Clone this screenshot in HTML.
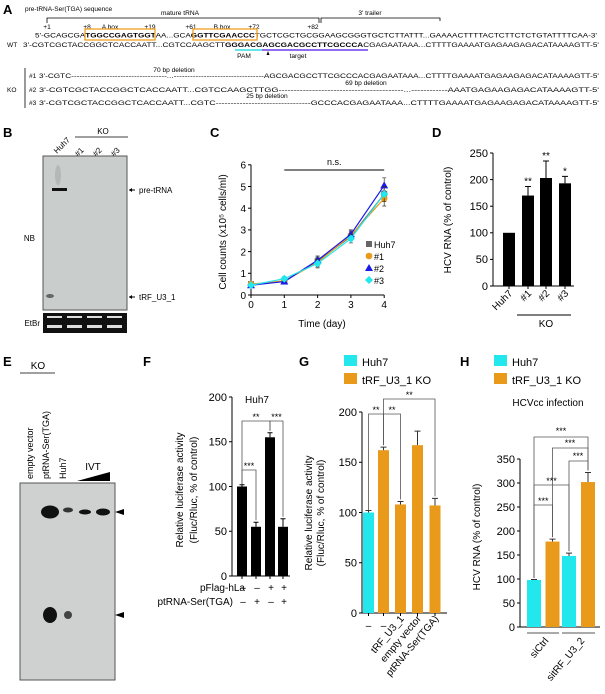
<!DOCTYPE html>
<html><head><meta charset="utf-8"><style>
body{margin:0;background:#fff}
svg{display:block;font-family:"Liberation Sans",sans-serif}
</style></head><body>
<svg id="fig" width="605" height="694" viewBox="0 0 605 694" xmlns="http://www.w3.org/2000/svg">
<!-- Panel A -->
<g font-size="6.6">
<text x="3" y="14" font-size="13" font-weight="bold">A</text>
<text x="25" y="11" font-size="6.5">pre-tRNA-Ser(TGA) sequence</text>
<path d="M47,23V18H319V23M321,23V18H440V21" stroke="#000" fill="none" stroke-width="0.8"/>
<text x="180" y="15" text-anchor="middle">mature tRNA</text>
<text x="370" y="15" text-anchor="middle">3' trailer</text>
<g>
<text x="47" y="29" text-anchor="middle">+1</text><text x="87" y="29" text-anchor="middle">+8</text>
<text x="110" y="29" text-anchor="middle">A box</text><text x="150" y="29" text-anchor="middle">+19</text>
<text x="191" y="29" text-anchor="middle">+61</text><text x="222" y="29" text-anchor="middle">B box</text>
<text x="254" y="29" text-anchor="middle">+72</text><text x="313" y="29" text-anchor="middle">+82</text></g>
<text x="35" y="37.5" textLength="562" lengthAdjust="spacingAndGlyphs">5'-GCAGCGA<tspan font-weight="bold">TGGCCGAGTGGT</tspan>AA...GCA<tspan font-weight="bold">GGTTCGAACCC</tspan>TGCTCGCTGCGGAAGCGGGTGCTCTTATTT...GAAAACTTTTACTCTTCTCTGTATTTTCAA-3'</text>
<rect x="85" y="29" width="70" height="11" fill="none" stroke="#f0a020" stroke-width="1.3"/>
<rect x="193" y="29" width="64" height="11" fill="none" stroke="#f0a020" stroke-width="1.3"/>
<text x="7" y="47">WT</text>
<text x="23" y="47" textLength="576" lengthAdjust="spacingAndGlyphs">3'-CGTCGCTACCGGCTCACCAATT...CGTCCAAGCTT<tspan font-weight="bold">GGGACGAGCGACGCCTTCGCCCA</tspan>CGAGAATAAA...CTTTTGAAAATGAGAAGAGACATAAAAGTT-5'</text>
<line x1="235" y1="50" x2="262" y2="50" stroke="#33dde0" stroke-width="1.6"/>
<line x1="262" y1="50" x2="368" y2="50" stroke="#6a3de8" stroke-width="1.6"/>
<path d="M268,51l-1.5,4h3z" fill="#000"/>
<text x="244" y="58" text-anchor="middle">PAM</text>
<text x="298" y="58" text-anchor="middle">target</text>
<line x1="25" y1="68" x2="25" y2="108" stroke="#000" stroke-width="0.8"/>
<text x="7" y="92">KO</text>
<text x="29" y="78">#1</text><text x="29" y="92">#2</text><text x="29" y="105">#3</text>
<text x="174" y="72" text-anchor="middle">70 bp deletion</text>
<text x="39" y="78" textLength="560" lengthAdjust="spacingAndGlyphs">3'-CGTC-----------------------------------...---------------------------------AGCGACGCCTTCGCCCACGAGAATAAA...CTTTTGAAAATGAGAAGAGACATAAAAGTT-5'</text>
<text x="366" y="85" text-anchor="middle">69 bp deletion</text>
<text x="39" y="92" textLength="560" lengthAdjust="spacingAndGlyphs">3'-CGTCGCTACCGGCTCACCAATT...CGTCCAAGCTTGG-----------------------------------------...------------AAATGAGAAGAGACATAAAAGTT-5'</text>
<text x="267" y="98" text-anchor="middle">25 bp deletion</text>
<text x="39" y="105" textLength="560" lengthAdjust="spacingAndGlyphs">3'-CGTCGCTACCGGCTCACCAATT...CGTC--------------------------------GCCCACGAGAATAAA...CTTTTGAAAATGAGAAGAGACATAAAAGTT-5'</text>
</g>
<!-- Panel B -->
<g font-size="8">
<text x="3" y="137" font-size="13" font-weight="bold">B</text>
<text transform="translate(57,154) rotate(-45)">Huh7</text>
<text transform="translate(78,157) rotate(-45)">#1</text>
<text transform="translate(96,157) rotate(-45)">#2</text>
<text transform="translate(114,157) rotate(-45)">#3</text>
<text x="103" y="134" text-anchor="middle">KO</text>
<line x1="75" y1="137" x2="128" y2="137" stroke="#000" stroke-width="0.8"/>
<rect x="43" y="156" width="84" height="154" fill="#c9cdcc" stroke="#555"/>
<rect x="52" y="188" width="15" height="3" fill="#111"/>
<ellipse cx="58" cy="175" rx="3" ry="10" fill="#aaa" opacity="0.6"/>
<ellipse cx="50" cy="296" rx="4" ry="2" fill="#666"/>
<text x="35" y="241" text-anchor="end">NB</text>
<path d="M129,190h6M129,297h6" stroke="#000"/><path d="M129,190l3,-2v4zM129,297l3,-2v4z"/>
<text x="139" y="193">pre-tRNA</text><text x="139" y="300">tRF_U3_1</text>
<rect x="43" y="313" width="84" height="20" fill="#111"/>
<g fill="#ddd"><rect x="47" y="316" width="15" height="2"/><rect x="67" y="316" width="15" height="2"/><rect x="87" y="316" width="15" height="2"/><rect x="107" y="316" width="15" height="2"/>
<rect x="47" y="325" width="15" height="3"/><rect x="67" y="325" width="15" height="3"/><rect x="87" y="325" width="15" height="3"/><rect x="107" y="325" width="15" height="3"/></g>
<text x="40" y="326" text-anchor="end">EtBr</text>
</g>
<g id="panelC"><text x="210" y="137" font-size="13" font-weight="bold">C</text></g>
<g id="panelD"><text x="432" y="137" font-size="13" font-weight="bold">D</text></g>
<!-- Panel E -->
<g font-size="9">
<text x="3" y="366" font-size="13" font-weight="bold">E</text>
<text x="38" y="369" text-anchor="middle" font-size="10">KO</text>
<line x1="20" y1="373" x2="55" y2="373" stroke="#000" stroke-width="0.8"/>
<text transform="translate(33,479) rotate(-90)">empty vector</text>
<text transform="translate(49,479) rotate(-90)">ptRNA-Ser(TGA)</text>
<text transform="translate(66,479) rotate(-90)">Huh7</text>
<text x="93" y="470" text-anchor="middle" font-size="10">IVT</text>
<path d="M77,481L110,481L110,472Z" fill="#000"/>
<rect x="20" y="483" width="95" height="197" fill="#cfd1d0" stroke="#555"/>
<ellipse cx="50" cy="512" rx="9" ry="6.5" fill="#111"/><ellipse cx="68" cy="510" rx="5" ry="2.5" fill="#333"/>
<ellipse cx="85" cy="512" rx="6" ry="2.5" fill="#111"/><ellipse cx="103" cy="512" rx="7" ry="3.5" fill="#111"/>
<ellipse cx="50" cy="615" rx="7" ry="8" fill="#111"/><ellipse cx="68" cy="615" rx="4" ry="4" fill="#444"/>
<path d="M115,512l9,-3v6zM115,615l9,-3v6z" fill="#000"/>
</g>
<g id="panelF"><text x="143" y="366" font-size="13" font-weight="bold">F</text></g>
<g id="panelG"><text x="299" y="366" font-size="13" font-weight="bold">G</text></g>
<g id="panelH"><text x="460" y="366" font-size="13" font-weight="bold">H</text></g>
</svg>
<script>
// Panel C data
const cDays=[0,1,2,3,4];
const cTicks=[0,1,2,3,4,5,6];
const cHuh7=[0.5,0.62,1.55,2.7,4.65];
const cKO1=[0.5,0.65,1.5,2.75,4.45];
const cKO2=[0.45,0.62,1.6,2.8,5.05];
const cKO3=[0.45,0.75,1.45,2.6,4.65];
const cErr=[0.05,0.1,0.2,0.2,0.35];
// Panel D
const dCats=["Huh7","#1","#2","#3"];
const dVals=[100,170,203,193];
const dErr=[0,17,32,13];
const dStars=["","**","**","*"];
const dTicks=[0,50,100,150,200,250];
// Panel F
const fVals=[100,55,155,55];
const fErr=[2,5,5,9];
const fFlag=["\u2013","\u2013","+","+"];
const fSer=["\u2013","+","\u2013","+"];
const fTicks=[0,50,100,150,200];
// Panel G
const gCats=["\u2013","\u2013","tRF_U3_1","empty vector","ptRNA-Ser(TGA)"];
const gVals=[100,162,108,167,107];
const gErr=[2,3,3,14,7];
const gGroup=[0,1,1,1,1];
const gTicks=[0,50,100,150,200];
// Panel H
const hVals=[98,178,148,302];
const hErr=[1,5,6,20];
const hGroup=[0,1,0,1];
const hTicks=[0,50,100,150,200,250,300,350];
const hCats=["siCtrl","sitRF_U3_2"];

const NS="http://www.w3.org/2000/svg";
const COL=["#22e8ee","#ea9a1a"];
function mk(parent,tag,attrs,text){const e=document.createElementNS(NS,tag);for(const k in attrs)e.setAttribute(k,attrs[k]);if(text!==undefined)e.textContent=text;parent.appendChild(e);return e;}
function yAxis(g,x,y0,y1,ticks,maxV,fs){
  const ax=mk(g,'line',{x1:x,y1:y0,x2:x,y2:y1,stroke:'#000','stroke-width':1});
  
  ticks.forEach(t=>{const y=y0-(y0-y1)*t/maxV;
    mk(g,'line',{x1:x-3,y1:y,x2:x,y2:y,stroke:'#000'});
    const lb=mk(g,'text',{x:x-5,y:y+3.8,'text-anchor':'end','font-size':fs},t);
    });
}
function bracket(g,x1,x2,y,ya,yb,label){
  mk(g,'path',{d:`M${x1},${ya}V${y}H${x2}V${yb}`,stroke:'#555',fill:'none','stroke-width':0.8});
  mk(g,'text',{x:(x1+x2)/2,y:y-1,'text-anchor':'middle','font-size':9},label);
}
// ---- C
(function(){
  const g=document.getElementById('panelC');
  const x0=251,xs=33.3,y0=295,ys=21.7;
  const X=d=>x0+d*xs, Y=v=>y0-v*ys;
  yAxis(g,x0,y0,Y(6),cTicks,6,10);
  const xa=mk(g,'line',{x1:x0,y1:y0,x2:X(4),y2:y0,stroke:'#000'});
  
  cDays.forEach(d=>{mk(g,'line',{x1:X(d),y1:y0,x2:X(d),y2:y0+3,stroke:'#000'});mk(g,'text',{x:X(d),y:y0+13,'text-anchor':'middle','font-size':10},d);});
  const xt=mk(g,'text',{x:322,y:327,'text-anchor':'middle','font-size':10},'Time (day)');
  
  const yt=mk(g,'text',{transform:'translate(226,232) rotate(-90)','text-anchor':'middle','font-size':10},'Cell counts (x10\u2075 cells/ml)');
  
  mk(g,'line',{x1:X(1),y1:170,x2:X(4),y2:170,stroke:'#000'});
  mk(g,'text',{x:(X(1)+X(4))/2,y:165,'text-anchor':'middle','font-size':9},'n.s.');
  const series=[[cHuh7,'#666','sq','Huh7'],[cKO1,'#ea9a1a','ci','#1'],[cKO2,'#1a1ae8','tr','#2'],[cKO3,'#22e8ee','di','#3']];
  series.forEach(([vals,c,m,name],si)=>{
    cDays.forEach((d,i)=>{mk(g,'path',{d:`M${X(d)},${Y(vals[i]-cErr[i])}V${Y(vals[i]+cErr[i])}M${X(d)-2},${Y(vals[i]-cErr[i])}h4M${X(d)-2},${Y(vals[i]+cErr[i])}h4`,stroke:'#333','stroke-width':0.7});});
    const pl=mk(g,'polyline',{points:cDays.map((d,i)=>X(d)+','+Y(vals[i])).join(' '),fill:'none',stroke:c,'stroke-width':1.2});
    
    cDays.forEach((d,i)=>{drawMarker(g,X(d),Y(vals[i]),m,c);});
    const ly=247+si*12;
    drawMarker(g,369,ly-3,m,c);
    const le=mk(g,'text',{x:374,y:ly+1,'font-size':9},name);
    
  });
  function drawMarker(g,x,y,m,c){let e;
    if(m==='sq')e=mk(g,'rect',{x:x-3,y:y-3,width:6,height:6,fill:c});
    else if(m==='ci')e=mk(g,'circle',{cx:x,cy:y,r:3.3,fill:c});
    else if(m==='tr')e=mk(g,'path',{d:`M${x},${y-4}L${x+4},${y+3}L${x-4},${y+3}Z`,fill:c});
    else e=mk(g,'path',{d:`M${x},${y-4}L${x+4},${y}L${x},${y+4}L${x-4},${y}Z`,fill:c});
    }
})();
// ---- D
(function(){
  const g=document.getElementById('panelD');
  const x0=493,y0=286,y1=153,maxV=250,Y=v=>y0-(y0-y1)*v/maxV;
  const cx=[509,528,546,565],w=12;
  yAxis(g,x0,y0,y1,dTicks,maxV,11);
  mk(g,'line',{x1:x0,y1:y0,x2:574,y2:y0,stroke:'#000'});
  dVals.forEach((v,i)=>{
    const b=mk(g,'rect',{x:cx[i]-w/2,y:Y(v),width:w,height:y0-Y(v),fill:'#000'});
    
    mk(g,'line',{x1:cx[i],y1:y0,x2:cx[i],y2:y0+3,stroke:'#000'});
    if(dErr[i])mk(g,'path',{d:`M${cx[i]},${Y(v)}V${Y(v+dErr[i])}M${cx[i]-3},${Y(v+dErr[i])}h6`,stroke:'#000'});
    mk(g,'text',{x:cx[i],y:Y(v+dErr[i])-2,'text-anchor':'middle','font-size':10},dStars[i]);
    mk(g,'text',{transform:`translate(${cx[i]+4},${y0+8}) rotate(-45)`,'text-anchor':'end','font-size':10},dCats[i]);
  });
  const yt=mk(g,'text',{transform:'translate(451,220) rotate(-90)','text-anchor':'middle','font-size':10},'HCV RNA (% of control)');
  
  mk(g,'line',{x1:517,y1:315,x2:571,y2:315,stroke:'#000'});
  mk(g,'text',{x:546,y:327,'text-anchor':'middle','font-size':10},'KO');
})();
// ---- F
(function(){
  const g=document.getElementById('panelF');
  const x0=232,y0=576,y1=397,maxV=200,Y=v=>y0-(y0-y1)*v/maxV;
  const cx=[242,256,270,283],w=10;
  yAxis(g,x0,y0,y1,fTicks,maxV,11);
  mk(g,'line',{x1:x0,y1:y0,x2:290,y2:y0,stroke:'#000'});
  fVals.forEach((v,i)=>{
    const b=mk(g,'rect',{x:cx[i]-w/2,y:Y(v),width:w,height:y0-Y(v),fill:'#000'});
    
    mk(g,'line',{x1:cx[i],y1:y0,x2:cx[i],y2:y0+3,stroke:'#000'});
    mk(g,'path',{d:`M${cx[i]},${Y(v)}V${Y(v+fErr[i])}M${cx[i]-2.5},${Y(v+fErr[i])}h5`,stroke:'#000'});
    mk(g,'text',{x:cx[i]+1,y:591,'text-anchor':'middle','font-size':10},fFlag[i]);
    mk(g,'text',{x:cx[i]+1,y:605,'text-anchor':'middle','font-size':10},fSer[i]);
  });
  mk(g,'text',{x:245,y:591,'text-anchor':'end','font-size':10},'pFlag-hLa');
  mk(g,'text',{x:233,y:605,'text-anchor':'end','font-size':10},'ptRNA-Ser(TGA)');
  mk(g,'text',{x:257,y:403,'text-anchor':'middle','font-size':10},'Huh7');
  const yt=mk(g,'text',{transform:'translate(183,490) rotate(-90)','text-anchor':'middle','font-size':10},'Relative luciferase activity');
  
  mk(g,'text',{transform:'translate(197,490) rotate(-90)','text-anchor':'middle','font-size':10},'(Fluc/Rluc, % of control)');
  bracket(g,cx[0],cx[2],421,Y(fVals[0])-2,Y(fVals[2]+fErr[2])-2,'**');
  bracket(g,cx[2],cx[3],421,Y(fVals[2]+fErr[2])-2,Y(fVals[3]+fErr[3])-2,'***');
  bracket(g,cx[0],cx[1],470,Y(fVals[0])-2,Y(fVals[1]+fErr[1])-2,'***');
})();
function legend(g,x){
  [['Huh7',0],['tRF_U3_1 KO',1]].forEach(([t,c],i)=>{
    mk(g,'rect',{x:x,y:355+i*18,width:13,height:11,fill:COL[c]});
    const le=mk(g,'text',{x:x+18,y:366+i*18,'font-size':11},t);
    });
}
// ---- G
(function(){
  const g=document.getElementById('panelG');
  legend(g,344);
  const x0=362,y0=613,y1=412,maxV=200,Y=v=>y0-(y0-y1)*v/maxV;
  const cx=[368.5,383.5,400.5,417.5,435],w=11;
  yAxis(g,x0,y0,y1,gTicks,maxV,11);
  mk(g,'line',{x1:x0,y1:y0,x2:447,y2:y0,stroke:'#000'});
  gVals.forEach((v,i)=>{
    const b=mk(g,'rect',{x:cx[i]-w/2,y:Y(v),width:w,height:y0-Y(v),fill:COL[gGroup[i]]});
    
    mk(g,'line',{x1:cx[i],y1:y0,x2:cx[i],y2:y0+3,stroke:'#000'});
    mk(g,'path',{d:`M${cx[i]},${Y(v)}V${Y(v+gErr[i])}M${cx[i]-3},${Y(v+gErr[i])}h6`,stroke:'#333'});
    if(i<2)mk(g,'text',{x:cx[i],y:629,'text-anchor':'middle','font-size':10},gCats[i]);
    else mk(g,'text',{transform:`translate(${cx[i]+4},${619}) rotate(-50)`,'text-anchor':'end','font-size':10},gCats[i]);
  });
  const yt=mk(g,'text',{transform:'translate(312,513) rotate(-90)','text-anchor':'middle','font-size':10},'Relative luciferase activity');
  
  mk(g,'text',{transform:'translate(324,513) rotate(-90)','text-anchor':'middle','font-size':10},'(Fluc/Rluc, % of control)');
  bracket(g,cx[0],cx[1],414,Y(gVals[0])-2,Y(gVals[1]+gErr[1])-2,'**');
  bracket(g,cx[1],cx[2],414,Y(gVals[1]+gErr[1])-2,Y(gVals[2]+gErr[2])-2,'**');
  bracket(g,cx[1],cx[4],399,414,Y(gVals[4]+gErr[4])-2,'**');
})();
// ---- H
(function(){
  const g=document.getElementById('panelH');
  legend(g,494);
  mk(g,'text',{x:548,y:406,'text-anchor':'middle','font-size':10},'HCVcc infection');
  const x0=520,y0=627,y1=459,maxV=350,Y=v=>y0-(y0-y1)*v/maxV;
  const cx=[534,552.5,569,588],w=14;
  yAxis(g,x0,y0,y1,hTicks,maxV,11);
  mk(g,'line',{x1:x0,y1:y0,x2:600,y2:y0,stroke:'#000'});
  hVals.forEach((v,i)=>{
    const b=mk(g,'rect',{x:cx[i]-w/2,y:Y(v),width:w,height:y0-Y(v),fill:COL[hGroup[i]]});
    
    mk(g,'path',{d:`M${cx[i]},${Y(v)}V${Y(v+hErr[i])}M${cx[i]-3},${Y(v+hErr[i])}h6`,stroke:'#333'});
  });
  mk(g,'line',{x1:527,y1:633,x2:559,y2:633,stroke:'#555'});
  mk(g,'line',{x1:562,y1:633,x2:595,y2:633,stroke:'#555'});
  mk(g,'text',{transform:'translate(549,641) rotate(-50)','text-anchor':'end','font-size':10},hCats[0]);
  mk(g,'text',{transform:'translate(585,641) rotate(-50)','text-anchor':'end','font-size':10},hCats[1]);
  const yt=mk(g,'text',{transform:'translate(480,537) rotate(-90)','text-anchor':'middle','font-size':10},'HCV RNA (% of control)');
  
  const top=cx.map((c,i)=>Y(hVals[i]+hErr[i])-2);
  bracket(g,cx[0],cx[3],437,Y(hVals[0])-2,top[3],'');
  mk(g,'text',{x:561,y:434,'text-anchor':'middle','font-size':9},'***');
  bracket(g,cx[1],cx[3],448,top[1],top[3],'');
  mk(g,'text',{x:570,y:446,'text-anchor':'middle','font-size':9},'***');
  bracket(g,cx[2],cx[3],461,top[2],top[3],'');
  mk(g,'text',{x:578,y:459,'text-anchor':'middle','font-size':9},'***');
  bracket(g,cx[0],cx[2],485,Y(hVals[0])-2,top[2],'***');
  bracket(g,cx[0],cx[1],505,Y(hVals[0])-2,top[1],'***');
})();
</script>
</body></html>
